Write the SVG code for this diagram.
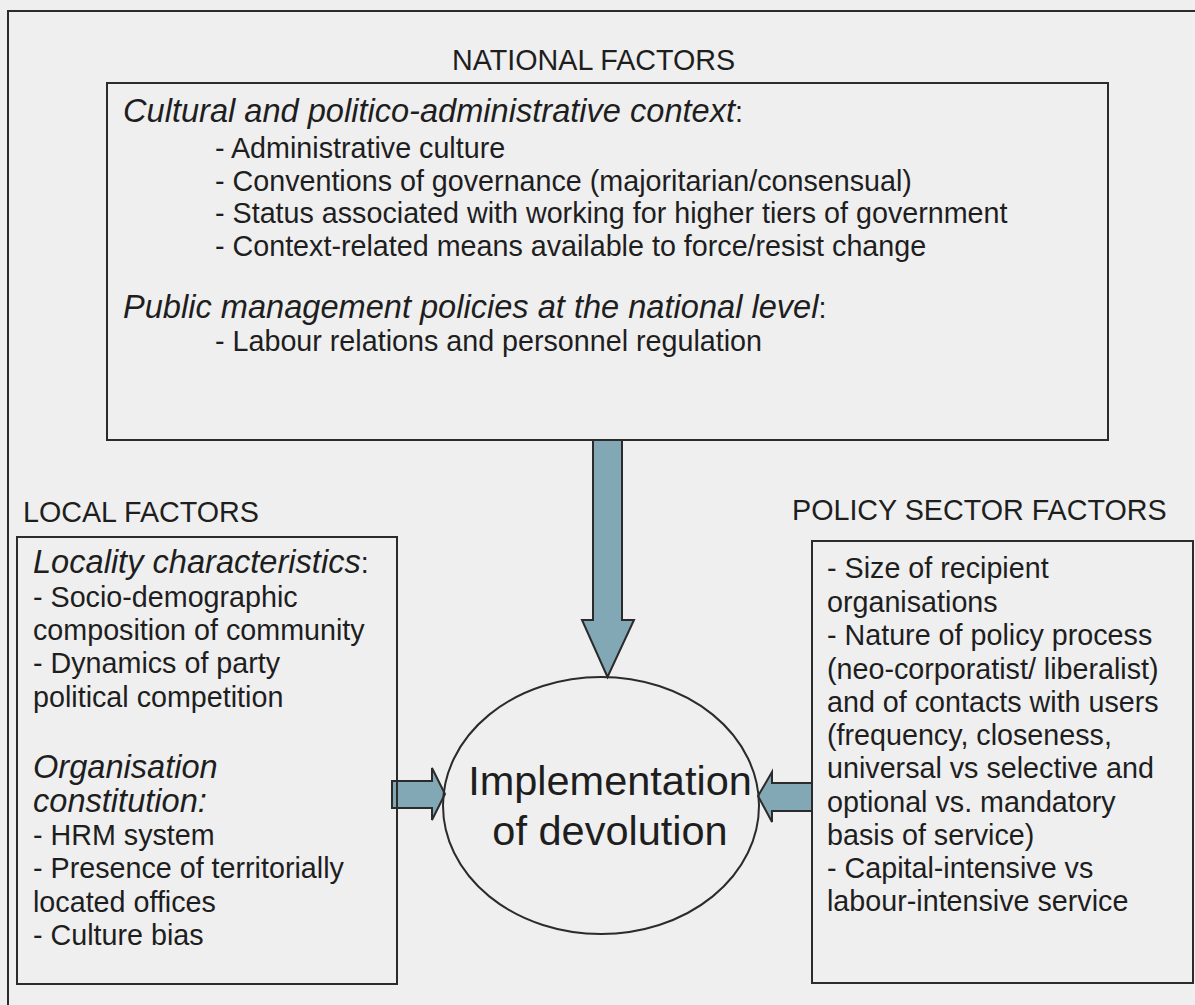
<svg xmlns="http://www.w3.org/2000/svg" width="1195" height="1005" viewBox="0 0 1195 1005">
  <style>
    text { font-family: "Liberation Sans", Arial, sans-serif; font-size: 28.7px; fill: #1e1e1e; }
    .it { font-style: italic; font-size: 32.6px; }
    .box { fill: none; stroke: #2b2b2b; stroke-width: 2; }
    .arrow { fill: #82a8b6; stroke: #2b2b2b; stroke-width: 2; stroke-linejoin: miter; }
    .big { font-size: 41.5px; text-anchor: middle; }
  </style>

  <!-- page background -->
  <rect x="0" y="0" width="1195" height="1005" fill="#efefef"/>

  <!-- outer frame -->
  <path class="box" d="M8,1005 V11 H1195"/>

  <!-- connectors -->
  <g id="connectors">
    <!-- national -> implementation -->
    <path class="arrow" d="M593,440 V620 H582 L607.5,677 L634,620 H622 V440 Z"/>
    <!-- local -> implementation -->
    <path class="arrow" d="M392,781 H432 V768 L445,794 L432,820 V808 H392 Z"/>
    <!-- policy sector -> implementation -->
    <path class="arrow" d="M812,783 H772 V772 L758,796 L772,822 V811 H812 Z"/>
  </g>

  <!-- national factors -->
  <g id="national">
    <text x="452" y="70">NATIONAL FACTORS</text>
    <rect class="box" x="107" y="83" width="1001" height="357"/>
    <text x="123" y="122"><tspan class="it">Cultural and politico-administrative context</tspan>:</text>
    <text x="215" y="158">- Administrative culture</text>
    <text x="215" y="191">- Conventions of governance (majoritarian/consensual)</text>
    <text x="215" y="223">- Status associated with working for higher tiers of government</text>
    <text x="215" y="256">- Context-related means available to force/resist change</text>
    <text x="123" y="318"><tspan class="it">Public management policies at the national level</tspan>:</text>
    <text x="215" y="351">- Labour relations and personnel regulation</text>
  </g>

  <!-- local factors -->
  <g id="local">
    <text x="23" y="522">LOCAL FACTORS</text>
    <rect class="box" x="17" y="537" width="380" height="447"/>
    <text x="33" y="573"><tspan class="it">Locality characteristics</tspan>:</text>
    <text x="33" y="607">- Socio-demographic</text>
    <text x="33" y="640">composition of community</text>
    <text x="33" y="673">- Dynamics of party</text>
    <text x="33" y="707">political competition</text>
    <text class="it" x="33" y="778">Organisation</text>
    <text class="it" x="33" y="812">constitution:</text>
    <text x="33" y="845">- HRM system</text>
    <text x="33" y="878">- Presence of territorially</text>
    <text x="33" y="912">located offices</text>
    <text x="33" y="945">- Culture bias</text>
  </g>

  <!-- policy sector factors -->
  <g id="policy">
    <text x="792" y="520">POLICY SECTOR FACTORS</text>
    <rect class="box" x="812" y="541" width="381" height="442"/>
    <text x="827" y="578">- Size of recipient</text>
    <text x="827" y="612">organisations</text>
    <text x="827" y="645">- Nature of policy process</text>
    <text x="827" y="679">(neo-corporatist/ liberalist)</text>
    <text x="827" y="712">and of contacts with users</text>
    <text x="827" y="745">(frequency, closeness,</text>
    <text x="827" y="778">universal vs selective and</text>
    <text x="827" y="812">optional vs. mandatory</text>
    <text x="827" y="845">basis of service)</text>
    <text x="827" y="878">- Capital-intensive vs</text>
    <text x="827" y="911">labour-intensive service</text>
  </g>

  <!-- implementation of devolution -->
  <g id="implementation">
    <ellipse class="box" cx="601" cy="805.5" rx="158" ry="128.5"/>
    <text class="big" x="610" y="795">Implementation</text>
    <text class="big" x="610" y="845">of devolution</text>
  </g>
</svg>
